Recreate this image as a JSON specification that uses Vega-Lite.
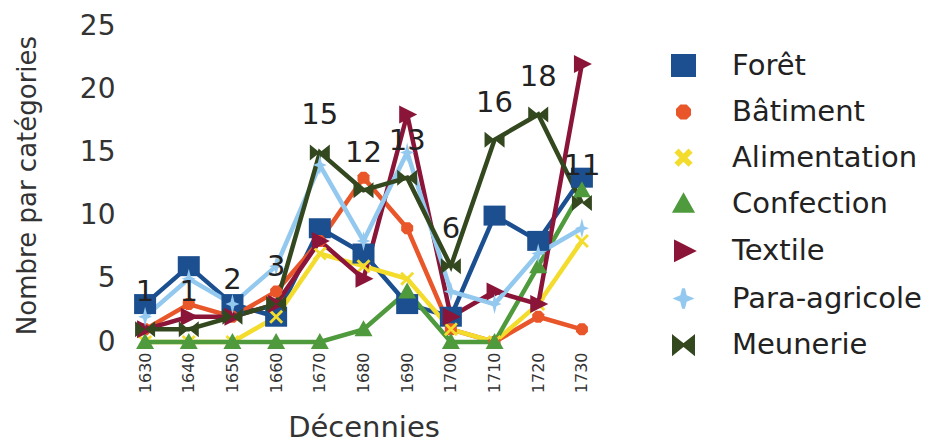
{
  "$schema": "https://vega.github.io/schema/vega-lite/v6.json",
  "width": 477,
  "height": 316,
  "autosize": {"type": "none"},
  "padding": {"left": 125, "top": 26, "right": 345, "bottom": 102},
  "background": "white",
  "config": {"view": {"stroke": null}, "font": "DejaVu Sans"},
  "data": {"values": [
    {"d":"1630","cat":"Forêt","v":3},{"d":"1640","cat":"Forêt","v":6},{"d":"1650","cat":"Forêt","v":3},{"d":"1660","cat":"Forêt","v":2},{"d":"1670","cat":"Forêt","v":9},{"d":"1680","cat":"Forêt","v":7},{"d":"1690","cat":"Forêt","v":3},{"d":"1700","cat":"Forêt","v":2},{"d":"1710","cat":"Forêt","v":10},{"d":"1720","cat":"Forêt","v":8},{"d":"1730","cat":"Forêt","v":13},
    {"d":"1630","cat":"Bâtiment","v":1},{"d":"1640","cat":"Bâtiment","v":3},{"d":"1650","cat":"Bâtiment","v":2},{"d":"1660","cat":"Bâtiment","v":4},{"d":"1670","cat":"Bâtiment","v":8},{"d":"1680","cat":"Bâtiment","v":13},{"d":"1690","cat":"Bâtiment","v":9},{"d":"1700","cat":"Bâtiment","v":1},{"d":"1710","cat":"Bâtiment","v":0},{"d":"1720","cat":"Bâtiment","v":2},{"d":"1730","cat":"Bâtiment","v":1},
    {"d":"1630","cat":"Alimentation","v":0},{"d":"1640","cat":"Alimentation","v":0},{"d":"1650","cat":"Alimentation","v":0},{"d":"1660","cat":"Alimentation","v":2},{"d":"1670","cat":"Alimentation","v":7},{"d":"1680","cat":"Alimentation","v":6},{"d":"1690","cat":"Alimentation","v":5},{"d":"1700","cat":"Alimentation","v":1},{"d":"1710","cat":"Alimentation","v":0},{"d":"1720","cat":"Alimentation","v":3},{"d":"1730","cat":"Alimentation","v":8},
    {"d":"1630","cat":"Confection","v":0},{"d":"1640","cat":"Confection","v":0},{"d":"1650","cat":"Confection","v":0},{"d":"1660","cat":"Confection","v":0},{"d":"1670","cat":"Confection","v":0},{"d":"1680","cat":"Confection","v":1},{"d":"1690","cat":"Confection","v":4},{"d":"1700","cat":"Confection","v":0},{"d":"1710","cat":"Confection","v":0},{"d":"1720","cat":"Confection","v":6},{"d":"1730","cat":"Confection","v":12},
    {"d":"1630","cat":"Textile","v":1},{"d":"1640","cat":"Textile","v":2},{"d":"1650","cat":"Textile","v":2},{"d":"1660","cat":"Textile","v":3},{"d":"1670","cat":"Textile","v":8},{"d":"1680","cat":"Textile","v":5},{"d":"1690","cat":"Textile","v":18},{"d":"1700","cat":"Textile","v":2},{"d":"1710","cat":"Textile","v":4},{"d":"1720","cat":"Textile","v":3},{"d":"1730","cat":"Textile","v":22},
    {"d":"1630","cat":"Para-agricole","v":2},{"d":"1640","cat":"Para-agricole","v":5},{"d":"1650","cat":"Para-agricole","v":3},{"d":"1660","cat":"Para-agricole","v":6},{"d":"1670","cat":"Para-agricole","v":14},{"d":"1680","cat":"Para-agricole","v":8},{"d":"1690","cat":"Para-agricole","v":15},{"d":"1700","cat":"Para-agricole","v":4},{"d":"1710","cat":"Para-agricole","v":3},{"d":"1720","cat":"Para-agricole","v":7},{"d":"1730","cat":"Para-agricole","v":9},
    {"d":"1630","cat":"Meunerie","v":1},{"d":"1640","cat":"Meunerie","v":1},{"d":"1650","cat":"Meunerie","v":2},{"d":"1660","cat":"Meunerie","v":3},{"d":"1670","cat":"Meunerie","v":15},{"d":"1680","cat":"Meunerie","v":12},{"d":"1690","cat":"Meunerie","v":13},{"d":"1700","cat":"Meunerie","v":6},{"d":"1710","cat":"Meunerie","v":16},{"d":"1720","cat":"Meunerie","v":18},{"d":"1730","cat":"Meunerie","v":11}
  ]},
  "encoding": {
    "x": {
      "field": "d", "type": "ordinal", "sort": "ascending",
      "scale": {"type": "point", "padding": 0.46},
      "axis": {
        "title": "Décennies", "domain": false, "ticks": false, "grid": false,
        "labelAngle": 270, "labelFontSize": 16, "labelColor": "#333", "labelPadding": 10,
        "titleFontSize": 29, "titleFontWeight": "normal", "titleColor": "#333",
        "titleBaseline": "alphabetic", "titleY": 94
      }
    },
    "y": {
      "field": "v", "type": "quantitative",
      "scale": {"domain": [0, 25], "nice": false, "zero": true},
      "axis": {
        "title": "Nombre par catégories", "values": [0, 5, 10, 15, 20, 25],
        "domain": false, "ticks": false, "grid": false,
        "labelFontSize": 28, "labelColor": "#333", "labelPadding": 10,
        "titleFontSize": 26, "titleFontWeight": "normal", "titleColor": "#333",
        "titleAngle": -90, "titleBaseline": "alphabetic", "titleAlign": "center",
        "titleX": -90, "titleY": 159
      }
    }
  },
  "layer": [
    {
      "mark": {"type": "line", "strokeWidth": 4.5},
      "encoding": {
        "color": {
          "field": "cat", "type": "nominal",
          "scale": {
            "domain": ["Forêt", "Bâtiment", "Alimentation", "Confection", "Textile", "Para-agricole", "Meunerie"],
            "range": ["#1b4f8f", "#e8562a", "#f3dc2c", "#4f9a3c", "#8a1538", "#94c9ef", "#34481f"]
          },
          "legend": {
            "title": null, "orient": "none", "legendX": 544, "legendY": 25,
            "padding": 0, "labelFontSize": 29, "labelColor": "#222", "labelFont": "DejaVu Sans",
            "labelLimit": 400, "labelOffset": 34, "rowPadding": 15.6, "symbolSize": 400, "symbolStrokeWidth": 3
          }
        },
        "detail": {"field": "cat"}
      }
    },
    {
      "mark": {"type": "point", "filled": true, "opacity": 1, "size": 400},
      "encoding": {
        "color": {
          "field": "cat", "type": "nominal",
          "legend": {
            "title": null, "orient": "none", "legendX": 544, "legendY": 25,
            "padding": 0, "labelFontSize": 29, "labelColor": "#222", "labelFont": "DejaVu Sans",
            "labelLimit": 400, "labelOffset": 34, "rowPadding": 15.6, "symbolSize": 400, "symbolStrokeWidth": 3
          }
        },
        "shape": {
          "field": "cat", "type": "nominal", "legend": null,
          "scale": {
            "domain": ["Forêt", "Bâtiment", "Alimentation", "Confection", "Textile", "Para-agricole", "Meunerie"],
            "range": [
              "M-1.1,-1H1.1V1H-1.1Z",
              "M-0.6,-0.25L-0.25,-0.6L0.25,-0.6L0.6,-0.25L0.6,0.25L0.25,0.6L-0.25,0.6L-0.6,0.25Z",
              "M-0.7,-0.5L-0.5,-0.7L0,-0.2L0.5,-0.7L0.7,-0.5L0.2,0L0.7,0.5L0.5,0.7L0,0.2L-0.5,0.7L-0.7,0.5L-0.2,0Z",
              "M0,-0.9L0.9,0.7H-0.9Z",
              "M-0.8,-0.9L1,0L-0.8,0.9Z",
              "M0,-1L0.2,-0.2L0.7,0L0.2,0.2L0,1L-0.2,0.2L-0.7,0L-0.2,-0.2Z",
              "M-1,-0.8L0,0L-1,0.8Z M1,-0.8L0,0L1,0.8Z"
            ]
          }
        }
      }
    },
    {
      "transform": [{"filter": "datum.cat === 'Meunerie'"}],
      "mark": {"type": "text", "dy": -37, "fontSize": 29, "font": "DejaVu Sans", "color": "#222"},
      "encoding": {"text": {"field": "v", "type": "quantitative"}}
    }
  ]
}
